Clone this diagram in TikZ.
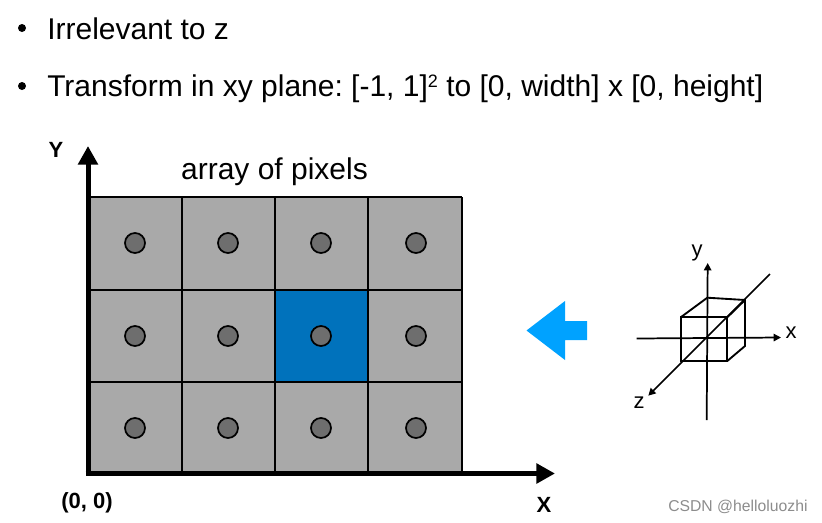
\documentclass[tikz,border=0pt]{standalone}
\usepackage{fontspec}
\setmainfont{Liberation Sans}
\usetikzlibrary{arrows.meta}
\definecolor{cellgray}{HTML}{A9A9A9}
\definecolor{dotgray}{HTML}{6E6E6E}
\definecolor{cellblue}{HTML}{0072BC}
\definecolor{arrowblue}{HTML}{00A2FF}
\tikzset{
  x=0.75pt,y=-0.75pt,
  pixdot/.style={circle,draw=black,fill=dotgray,line width=1.3pt,minimum size=15pt,inner sep=0},
  bigtext/.style={inner sep=0,anchor=base west,font=\fontsize{22.5}{26}\selectfont\frenchspacing},
  midtext/.style={inner sep=0,anchor=base,font=\fontsize{16.5}{19}\selectfont},
  axislabel/.style={inner sep=0,anchor=base,font=\fontsize{16.5}{19}\selectfont\bfseries},
  axisbig/.style={line width=3.75pt,-{Triangle[length=14pt,width=14.5pt]}},
  axissmall/.style={line width=1.3pt,-{Triangle[length=5.5pt,width=5.5pt]}},
  cubeedge/.style={line width=1.4pt,line join=miter},
}
\begin{document}
\begin{tikzpicture}
\useasboundingbox (0,0) rectangle (822,522);
% bullets
\fill (22,28) circle (4);
\fill (22,86) circle (4);
\node[bigtext] (t1) at (47,39) {Irrelevant to z};
\node[bigtext] (t2) at (47,96) {Transform in xy plane: [-1, 1]\raisebox{0.55ex}{\fontsize{13.5}{15}\selectfont 2} to [0, width] x [0, height]};
\node[inner sep=0,anchor=base,font=\fontsize{22.5}{26}\selectfont] (title) at (274.5,179) {array of pixels};
% cells
\fill[cellgray] (88,197) rectangle (462,473);
\fill[cellblue] (275,290) rectangle (368,382);
\draw[line width=1.5pt] (88,197) -- (462,197) (88,290) -- (462,290) (88,382) -- (462,382)
  (182,197) -- (182,473) (275,197) -- (275,473) (368,197) -- (368,473) (462,197) -- (462,473);
% dots
\foreach \y/\r in {243/a,336/b,428/c}
  \foreach \x/\c in {135/1,228/2,321/3,416/4}
    \node[pixdot] (d\r\c) at (\x,\y) {};
% axes
\coordinate (o) at (88,473.5);
\coordinate (ox) at (555,473.5);
\coordinate (oy) at (88,146);
\draw[axisbig] (85.5,473.5) -- (ox);
\draw[axisbig] (o) -- (oy);
\node[axislabel] (ly) at (56,157) {Y};
\node[axislabel] (lx) at (544,512) {X};
\node[axislabel] (l0) at (87,508) {(0, 0)};
% blue arrow
\fill[arrowblue] (526.5,330.5) -- (565,301) -- (565,321) -- (587,321) -- (587,340) -- (565,340) -- (565,360) -- cycle;
% 3D axes
\coordinate (yb) at (706.7,420);
\coordinate (yt) at (707.7,263);
\coordinate (xl) at (636.7,338.5);
\coordinate (xr) at (781,337.5);
\coordinate (zt) at (770,274);
\coordinate (zb) at (648.3,395.7);
\draw[axissmall] (yb) -- (yt);
\draw[axissmall] (xl) -- (xr);
\draw[axissmall] (zt) -- (zb);
% cube
\coordinate (f1) at (680.7,317.3);
\coordinate (f2) at (727.3,317.3);
\coordinate (f3) at (727.3,361);
\coordinate (f4) at (680.7,361);
\coordinate (b1) at (707.3,297.7);
\coordinate (b2) at (745,300);
\coordinate (b3) at (745,346);
\draw[cubeedge] (f1) -- (f2) -- (f3) -- (f4) -- cycle;
\draw[cubeedge] (f1) -- (b1) -- (b2) -- (b3) -- (f3);
\draw[cubeedge] (f2) -- (b2);
\node[midtext] (ay) at (697,256) {y};
\node[midtext] (ax) at (791,338) {x};
\node[midtext] (az) at (639,408) {z};
% watermark
\node[inner sep=0,anchor=base west,text=black!45,font=\fontsize{11.8}{14}\selectfont] (wm) at (668,511) {CSDN @helloluozhi};
\end{tikzpicture}
\end{document}
